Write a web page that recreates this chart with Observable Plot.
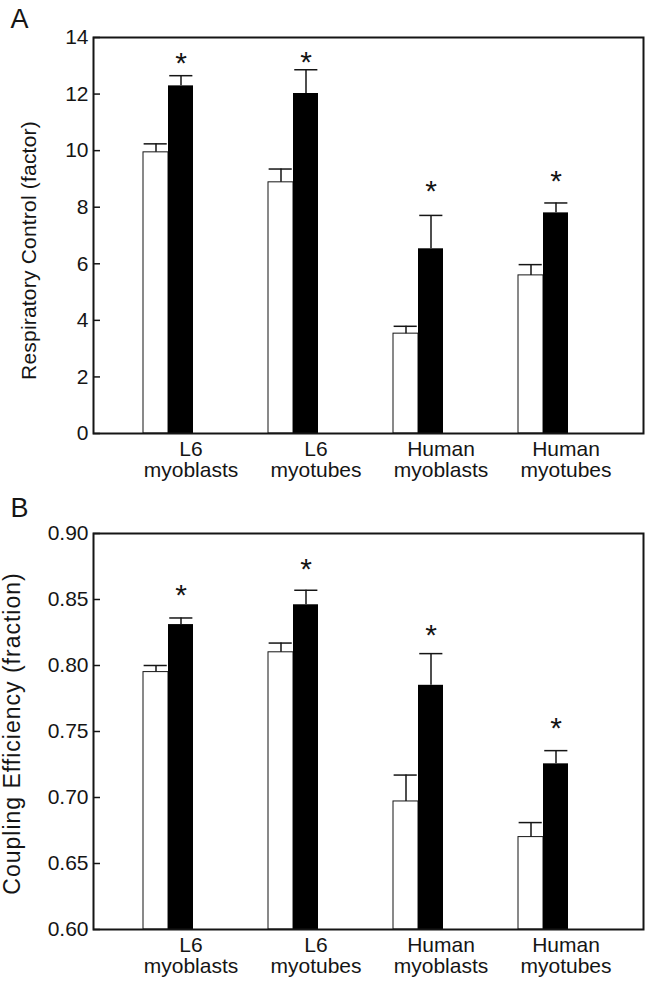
<!DOCTYPE html>
<html>
<head>
<meta charset="utf-8">
<script src="https://cdn.jsdelivr.net/npm/d3@7"></script>
<script src="https://cdn.jsdelivr.net/npm/@observablehq/plot@0.6"></script>
<style>
  body { margin: 0; background: #fff; }
  #chart { width: 648px; height: 981px; }
  svg { display: block; }
</style>
</head>
<body>
<div id="chart"></div>
<script>
// ---- data ----
const groups = ["L6\nmyoblasts", "L6\nmyotubes", "Human\nmyoblasts", "Human\nmyotubes"];

// Panel A: Respiratory Control (factor)
const rcControl    = [9.94, 8.88, 3.53, 5.59];
const rcControlErr = [0.30, 0.47, 0.26, 0.38];
const rcTreated    = [12.29, 12.02, 6.53, 7.80];
const rcTreatedErr = [0.36, 0.84, 1.18, 0.35];
const rcStars      = [13.35, 13.42, 8.85, 9.20];
const rcTicks      = [0, 2, 4, 6, 8, 10, 12, 14];

// Panel B: Coupling Efficiency (fraction)
const ceControl    = [0.795, 0.810, 0.697, 0.670];
const ceControlErr = [0.005, 0.007, 0.020, 0.011];
const ceTreated    = [0.831, 0.846, 0.785, 0.7255];
const ceTreatedErr = [0.005, 0.011, 0.024, 0.010];
const ceStars      = [0.859, 0.8785, 0.829, 0.7586];
const ceTicks      = [0.60, 0.65, 0.70, 0.75, 0.80, 0.85, 0.90];

const FONT = "'Liberation Sans', Arial, Helvetica, sans-serif";
const INK = "#151515";

function panel(o) {
  const rows = groups.map((g, i) => ({
    i, g,
    c: o.control[i], ce: o.controlErr[i],
    t: o.treated[i], te: o.treatedErr[i],
    s: o.stars[i]
  }));
  const base = o.yDomain[0];
  const svg = Plot.plot({
    width: 648,
    height: o.height,
    marginTop: o.marginTop,
    marginBottom: o.marginBottom,
    marginLeft: 93,
    marginRight: 5,
    style: { fontFamily: FONT, background: "white", color: INK, overflow: "visible" },
    x: { type: "linear", domain: [-0.6, 3.8], axis: null },
    y: { domain: o.yDomain, axis: null },
    marks: [
      // control (white) bars
      Plot.rectY(rows, { x1: d => d.i - 0.2, x2: d => d.i, y1: base, y2: "c", fill: "white", stroke: INK, strokeWidth: 1 }),
      // treated (black) bars
      Plot.rectY(rows, { x1: d => d.i, x2: d => d.i + 0.2, y1: base, y2: "t", fill: "black" }),
      // error bars (upper only)
      Plot.ruleX(rows, { x: d => d.i - 0.1, y1: "c", y2: d => d.c + d.ce, stroke: INK, strokeWidth: 1.5 }),
      Plot.ruleY(rows, { y: d => d.c + d.ce, x1: d => d.i - 0.195, x2: d => d.i - 0.01, stroke: INK, strokeWidth: 1.5 }),
      Plot.ruleX(rows, { x: d => d.i + 0.1, y1: "t", y2: d => d.t + d.te, stroke: INK, strokeWidth: 1.5 }),
      Plot.ruleY(rows, { y: d => d.t + d.te, x1: d => d.i + 0.01, x2: d => d.i + 0.195, stroke: INK, strokeWidth: 1.5 }),
      // significance asterisks
      Plot.text(rows, { x: d => d.i + 0.1, y: "s", text: () => "*", fontSize: 30, dy: 8, fill: INK }),
      // axes
      Plot.axisY({
        ticks: o.yTicks, tickFormat: o.yFormat, tickSize: -7, tickPadding: 12,
        fontSize: 21, label: null, strokeWidth: 1.5
      }),
      Plot.axisX({
        ticks: groups.map((_, i) => i + 0.18),
        tickFormat: d => groups[Math.round(d - 0.18)],
        tickSize: 0, tickPadding: 8, fontSize: 21, label: null
      }),
      Plot.frame({ stroke: INK, strokeWidth: 2 }),
      // y label
      Plot.text([o.yLabel], { frameAnchor: "left", text: d => d, rotate: -90, textAnchor: "middle", dx: o.labelDx, dy: o.labelDy, fontSize: o.labelSize, fill: INK }),
      // panel letter
      Plot.text([o.letter], { frameAnchor: "top-left", text: d => d, dx: -83, dy: o.letterDy, textAnchor: "start", lineAnchor: "bottom", fontSize: 27, fill: INK })
    ]
  });
  // spacing of the rotated axis title, as in the original typesetting
  d3.select(svg).selectAll("text")
    .filter(function () { return this.textContent === o.yLabel; })
    .attr("letter-spacing", o.labelSpacing);
  return svg;
}

const chart = document.getElementById("chart");
chart.append(panel({
  letter: "A",
  control: rcControl, controlErr: rcControlErr,
  treated: rcTreated, treatedErr: rcTreatedErr, stars: rcStars,
  yDomain: [0, 14], yTicks: rcTicks, yFormat: d3.format("d"),
  yLabel: "Respiratory Control (factor)", labelDx: -64, labelDy: 15, labelSize: 21, labelSpacing: 0.2,
  height: 483, marginTop: 37, marginBottom: 50, letterDy: -10
}));
chart.append(panel({
  letter: "B",
  control: ceControl, controlErr: ceControlErr,
  treated: ceTreated, treatedErr: ceTreatedErr, stars: ceStars,
  yDomain: [0.60, 0.90], yTicks: ceTicks, yFormat: d3.format(".2f"),
  yLabel: "Coupling Efficiency (fraction)", labelDx: -81, labelDy: 2, labelSize: 23, labelSpacing: 1,
  height: 498, marginTop: 50, marginBottom: 52, letterDy: -17
}));
</script>
</body>
</html>
